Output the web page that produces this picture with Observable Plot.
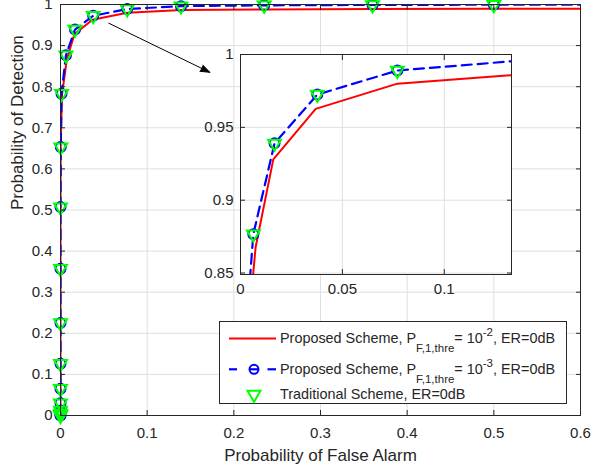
<!DOCTYPE html>
<html><head><meta charset="utf-8">
<script src="https://cdn.jsdelivr.net/npm/d3@7"></script>
<script src="https://cdn.jsdelivr.net/npm/@observablehq/plot@0.6"></script>
<style>
body{margin:0;background:#fff;}
#wrap{position:relative;width:594px;height:472px;font-family:"Liberation Sans",Arial,Helvetica,sans-serif;}
#wrap svg{overflow:visible;position:absolute;}
</style></head><body><div id="wrap"></div>
<script>
// ---- main axes ticks ----
const xTicks = [0, 0.1, 0.2, 0.3, 0.4, 0.5, 0.6];
const xTickLabels = ["0", "0.1", "0.2", "0.3", "0.4", "0.5", "0.6"];
const yTicks = [0, 0.1, 0.2, 0.3, 0.4, 0.5, 0.6, 0.7, 0.8, 0.9, 1];
const yTickLabels = ["0", "0.1", "0.2", "0.3", "0.4", "0.5", "0.6", "0.7", "0.8", "0.9", "1"];
// ---- inset ticks ----
const inXTicks = [0, 0.05, 0.1];
const inXTickLabels = ["0", "0.05", "0.1"];
const inYTicks = [0.85, 0.9, 0.95, 1];
const inYTickLabels = ["0.85", "0.9", "0.95", "1"];
const inXDomain = [0, 0.133];
const inYDomain = [0.849, 1];

// ---- series: Proposed Scheme, P_F,1,thre = 1e-2 (red solid) ----
const redX = [0, 0, 0, 0, 0, 0, 0, 0, 0.0002, 0.0017, 0.0074, 0.0161, 0.0369, 0.077, 0.14, 0.235, 0.36, 0.5, 0.65];
const redY = [0, 0.012, 0.03, 0.065, 0.126, 0.225, 0.357, 0.507, 0.653, 0.78, 0.8675, 0.928, 0.9627, 0.980, 0.9865, 0.988, 0.989, 0.9895, 0.99];
// ---- series: Proposed Scheme, P_F,1,thre = 1e-3 (blue dashed, circles) ----
const blueX = [0, 0, 0, 0, 0, 0, 0, 0, 0, 0, 0.0003, 0.0012, 0.0063, 0.0167, 0.0377, 0.077, 0.139, 0.235, 0.36, 0.5, 0.65];
const blueY = [0, 0.002, 0.005, 0.012, 0.03, 0.065, 0.126, 0.225, 0.357, 0.507, 0.653, 0.783, 0.8767, 0.939, 0.9725, 0.989, 0.996, 0.998, 0.999, 0.9995, 0.9997];
// ---- series: Traditional Scheme (green triangles) ----
const greenX = [0, 0, 0, 0, 0, 0, 0, 0, 0, 0, 0.0003, 0.0012, 0.0063, 0.0167, 0.0377, 0.077, 0.139, 0.235, 0.36, 0.5];
const greenY = [0, 0.002, 0.005, 0.012, 0.03, 0.065, 0.126, 0.225, 0.357, 0.507, 0.653, 0.783, 0.8767, 0.939, 0.9725, 0.989, 0.996, 0.998, 0.999, 0.9995];
// ---- annotation arrow (data coordinates of main axes) ----
const arrowFrom = [0.0557, 0.9545];
const arrowTo = [0.1723, 0.835];
// ---- legend ----
const legendLabels = [
  ["Proposed Scheme, P", "F,1,thre", "= 10", "-2", ", ER=0dB"],
  ["Proposed Scheme, P", "F,1,thre", "= 10", "-3", ", ER=0dB"],
  ["Traditional Scheme, ER=0dB"]
];
const xLabel = "Probability of False Alarm";
const yLabel = "Probability of Detection";

const RED = "#ff0000", BLUE = "#0000ff", GREEN = "#00ff00", AX = "#262626", GRID = "#dfdfdf";

const red = redX.map((x, i) => ({x, y: redY[i]}));
const blue = blueX.map((x, i) => ({x, y: blueY[i]}));
const green = greenX.map((x, i) => ({x, y: greenY[i]}));

function fmt(ticks, labels) { return d => labels[ticks.indexOf(d)]; }

const wrap = document.getElementById("wrap");
const FONT = "'Liberation Sans', Arial, Helvetica, sans-serif";

const main = Plot.plot({
  width: 594, height: 472,
  marginLeft: 60, marginRight: 14, marginTop: 4, marginBottom: 57,
  x: {domain: [0, 0.6]},
  y: {domain: [0, 1]},
  style: {fontSize: "15px", fontFamily: FONT, color: AX, background: "transparent", overflow: "visible"},
  marks: [
    Plot.gridX(xTicks, {stroke: GRID, strokeOpacity: 1}),
    Plot.gridY(yTicks, {stroke: GRID, strokeOpacity: 1}),
    Plot.line(red, {x: "x", y: "y", stroke: RED, strokeWidth: 2, clip: true}),
    Plot.line(blue, {x: "x", y: "y", stroke: BLUE, strokeWidth: 2.2, strokeDasharray: "10,6", clip: true}),
    Plot.dot(blue, {x: "x", y: "y", filter: d => d.x <= 0.6, r: 5, stroke: BLUE, strokeWidth: 2, fill: "none"}),
    Plot.dot(green, {x: "x", y: "y", symbol: "triangle", rotate: 180, r: 4.8, stroke: GREEN, strokeWidth: 2, fill: "none"}),
    Plot.arrow([{x1: arrowFrom[0], y1: arrowFrom[1], x2: arrowTo[0], y2: arrowTo[1]}], {x1: "x1", y1: "y1", x2: "x2", y2: "y2", stroke: "#000", strokeWidth: 1, headLength: 15, headAngle: 40}),
    Plot.frame({stroke: AX, strokeWidth: 1}),
    Plot.axisX(xTicks, {anchor: "bottom", tickSize: -5, tickFormat: () => "", stroke: AX, label: null}),
    Plot.axisX(xTicks, {anchor: "top", tickSize: -5, tickFormat: () => "", stroke: AX, label: null}),
    Plot.axisY(yTicks, {anchor: "left", tickSize: -5, tickFormat: () => "", stroke: AX, label: null}),
    Plot.axisY(yTicks, {anchor: "right", tickSize: -5, tickFormat: () => "", stroke: AX, label: null}),
    Plot.axisX(xTicks, {anchor: "bottom", tickSize: 0, tickPadding: 12, tickFormat: fmt(xTicks, xTickLabels), fill: AX, label: null}),
    Plot.axisY(yTicks, {anchor: "left", tickSize: 0, tickPadding: 8, tickFormat: fmt(yTicks, yTickLabels), fill: AX, label: null}),
    Plot.text([xLabel], {frameAnchor: "bottom", dy: 45, fontSize: 17, fill: AX}),
    Plot.text([yLabel], {frameAnchor: "left", rotate: -90, dx: -43, fontSize: 17, fill: AX})
  ]
});
main.style.left = "0px"; main.style.top = "0px";
d3.select(main).selectAll('g[aria-label="arrow"] path').attr("fill", "#000");
wrap.appendChild(main);

const inset = Plot.plot({
  width: 321, height: 260,
  marginLeft: 40, marginRight: 10, marginTop: 10, marginBottom: 30,
  x: {domain: inXDomain},
  y: {domain: inYDomain},
  style: {fontSize: "15px", fontFamily: FONT, color: AX, background: "transparent", overflow: "visible"},
  marks: [
    Plot.frame({fill: "white"}),
    Plot.gridX(inXTicks, {stroke: GRID, strokeOpacity: 1}),
    Plot.gridY(inYTicks, {stroke: GRID, strokeOpacity: 1}),
    Plot.line(red, {x: "x", y: "y", stroke: RED, strokeWidth: 2, clip: true}),
    Plot.line(blue, {x: "x", y: "y", stroke: BLUE, strokeWidth: 2.2, strokeDasharray: "10,6", clip: true}),
    Plot.dot(blue, {x: "x", y: "y", r: 5, stroke: BLUE, strokeWidth: 2, fill: "none", clip: true}),
    Plot.dot(green, {x: "x", y: "y", symbol: "triangle", rotate: 180, r: 4.8, stroke: GREEN, strokeWidth: 2, fill: "none", clip: true}),
    Plot.frame({stroke: AX, strokeWidth: 1}),
    Plot.axisX(inXTicks, {anchor: "bottom", tickSize: -5, tickFormat: () => "", stroke: AX, label: null}),
    Plot.axisX(inXTicks, {anchor: "top", tickSize: -5, tickFormat: () => "", stroke: AX, label: null}),
    Plot.axisY(inYTicks, {anchor: "left", tickSize: -5, tickFormat: () => "", stroke: AX, label: null}),
    Plot.axisY(inYTicks, {anchor: "right", tickSize: -5, tickFormat: () => "", stroke: AX, label: null}),
    Plot.axisX(inXTicks, {anchor: "bottom", tickSize: 0, tickPadding: 9, tickFormat: fmt(inXTicks, inXTickLabels), fill: AX, label: null}),
    Plot.axisY(inYTicks, {anchor: "left", tickSize: 0, tickPadding: 7, tickFormat: fmt(inYTicks, inYTickLabels), fill: AX, label: null})
  ]
});
inset.style.left = "200px"; inset.style.top = "44px";
wrap.appendChild(inset);

// ---- legend (overlay) ----
const lw = 348, lh = 83;
const leg = d3.create("svg").attr("width", lw).attr("height", lh)
  .style("left", "218.5px").style("top", "320.5px")
  .style("font-family", FONT);
leg.append("rect").attr("x", 0.5).attr("y", 0.5).attr("width", lw - 1).attr("height", lh - 1)
  .attr("fill", "white").attr("stroke", AX).attr("stroke-width", 1);
const rowsY = [17.6, 48.3, 73.6];
const baseY = [21.5, 52.6, 78.3];
leg.append("line").attr("x1", 10).attr("x2", 57).attr("y1", rowsY[0]).attr("y2", rowsY[0]).attr("stroke", RED).attr("stroke-width", 2);
leg.append("line").attr("x1", 10).attr("x2", 18).attr("y1", rowsY[1]).attr("y2", rowsY[1]).attr("stroke", BLUE).attr("stroke-width", 2.2);
leg.append("line").attr("x1", 48.5).attr("x2", 57).attr("y1", rowsY[1]).attr("y2", rowsY[1]).attr("stroke", BLUE).attr("stroke-width", 2.2);
leg.append("line").attr("x1", 31).attr("x2", 39).attr("y1", rowsY[1]).attr("y2", rowsY[1]).attr("stroke", BLUE).attr("stroke-width", 2.2);
leg.append("circle").attr("cx", 35).attr("cy", rowsY[1]).attr("r", 4.5).attr("fill", "none").attr("stroke", BLUE).attr("stroke-width", 2);
leg.append("path").attr("d", d3.symbol(d3.symbolTriangle, 4.8 * 4.8 * Math.PI)())
  .attr("transform", `translate(35,${rowsY[2]}) rotate(180)`).attr("fill", "none").attr("stroke", GREEN).attr("stroke-width", 2);
legendLabels.forEach((parts, i) => {
  const t = leg.append("text").attr("x", 61).attr("y", baseY[i]).attr("fill", AX).style("font-size", "14.4px");
  if (parts.length === 1) { t.text(parts[0]); return; }
  t.append("tspan").text(parts[0]);
  t.append("tspan").attr("dy", 9.5).style("font-size", "11.5px").text(parts[1]);
  t.append("tspan").attr("dy", -9.5).text(parts[2]);
  t.append("tspan").attr("dy", -7).style("font-size", "11.5px").text(parts[3]);
  t.append("tspan").attr("dy", 7).text(parts[4]);
});
wrap.appendChild(leg.node());
</script></body></html>
